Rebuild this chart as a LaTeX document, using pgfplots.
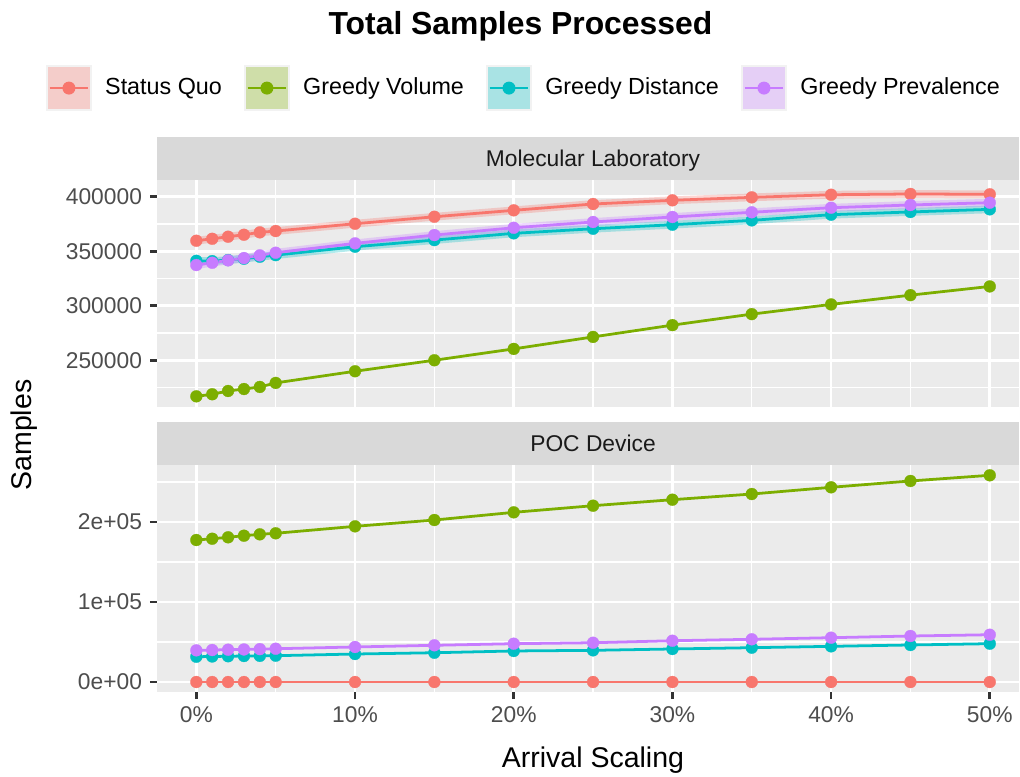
\documentclass[border=0pt]{standalone}
\usepackage{pgfplots}
\pgfplotsset{compat=1.18}
\usepackage{pgfplotstable}
\usepackage{fontspec}
\setmainfont{Liberation Sans}

\definecolor{ggred}{HTML}{F8766D}
\definecolor{gggreen}{HTML}{7CAE00}
\definecolor{ggcyan}{HTML}{00BFC4}
\definecolor{ggpurple}{HTML}{C77CFF}
\definecolor{keyred}{HTML}{F4CDCA}
\definecolor{keygreen}{HTML}{CFDEA9}
\definecolor{keycyan}{HTML}{A9E3E4}
\definecolor{keypurple}{HTML}{E5CFF6}
\definecolor{keyborder}{HTML}{F2F2F2}
\definecolor{ggbg}{HTML}{EBEBEB}
\definecolor{ggstrip}{HTML}{D9D9D9}
\definecolor{ggticktext}{HTML}{4D4D4D}
\definecolor{ggtickmark}{HTML}{333333}
\definecolor{ggtext}{HTML}{1A1A1A}

% Molecular Laboratory panel
\pgfplotstableread{
x  sq      gv      gd      gp
0  359600  216900  341200  337300
1  361400  218800  340900  339400
2  363300  221800  341900  341600
3  365100  223600  343100  343700
4  367300  225500  344900  346200
5  368500  229200  346400  348600
10 375200  239900  354100  357200
15 381600  250000  360200  364800
20 387500  260400  366400  371500
25 393300  271400  370600  376800
30 396700  282200  374300  381400
35 399400  292300  378300  385700
40 401800  301200  383500  389900
45 402500  309700  386000  392400
50 402200  317700  388400  394500
}\toptable

% POC Device panel
\pgfplotstableread{
x  sq  gv      gd     gp
0  0   177500  31600  39600
1  0   179100  31900  40000
2  0   180900  32200  40400
3  0   182900  32500  40700
4  0   184600  32700  41100
5  0   185900  32900  41600
10 0   194600  35000  43800
15 0   202500  36600  45900
20 0   212100  38800  47900
25 0   220400  39600  49100
30 0   227900  41300  51600
35 0   235000  42900  53400
40 0   243400  44600  55400
45 0   251300  46300  57500
50 0   258400  47900  59100
}\bottable

\pgfplotsset{
  ggaxis/.style={
    scale only axis,
    width=332.73pt, height=87.62pt,
    xmin=-2.48, xmax=51.84,
    axis background/.style={fill=ggbg},
    axis line style={draw=none},
    grid=both,
    major grid style={white, line width=1.07pt},
    minor grid style={white, line width=0.53pt},
    xtick={0,10,20,30,40,50},
    minor xtick={5,15,25,35,45},
    tick align=outside,
    major tick length=2.7pt,
    minor tick length=0pt,
    major tick style={ggtickmark, line width=1.07pt},
    minor tick style={draw=none},
    ytick pos=left,
    tick label style={font=\fontsize{8.8}{10}\selectfont, text=ggticktext, inner sep=0pt, outer sep=3.1pt},
    label style={font=\fontsize{11}{13}\selectfont, text=black},
    /pgf/number format/assume math mode=true,
  },
  ribbon/.style={#1, opacity=0.3, line width=3pt, forget plot},
  ln/.style={#1, line width=1.07pt, forget plot},
  pts/.style={only marks, mark=*, mark size=2.3pt, mark options={fill=#1, draw=#1, line width=0.1pt}},
  key/.style 2 args={legend image code/.code={
      \fill[#2, draw=keyborder, line width=0.6pt] (0pt,-8.5pt) rectangle (17pt,8.5pt);
      \draw[#1, line width=1.07pt] (1pt,0pt) -- (16pt,0pt);
      \fill[#1] (8.5pt,0pt) circle (2.3pt);}},
}

\begin{document}
\begin{tikzpicture}
\useasboundingbox (0pt,0pt) rectangle (393.72pt,299.54pt);

\node[anchor=base, font=\fontsize{12.3}{14}\selectfont\bfseries] at (200.9pt,286.41pt) {Total Samples Processed};

\begin{axis}[ggaxis, name=top,
  at={(60.60pt,142.43pt)}, anchor=south west,
  ymin=207100, ymax=415300,
  xtick pos=top, xticklabels={},
  ytick={250000,300000,350000,400000},
  yticklabels={250000,300000,350000,400000},
  minor ytick={225000,275000,325000,375000},
  legend columns=4,
  legend style={at={(axis description cs:0.4246,1.405)}, anchor=center,
    draw=none, fill=none, inner sep=0pt,
    font=\fontsize{9}{10.5}\selectfont, text=black,
    nodes={inner sep=0pt},
    /tikz/every odd column/.append style={column sep=5.2pt},
    /tikz/every even column/.append style={column sep=8.6pt}},
]
\addplot[ribbon=ggred] table[x=x, y=sq] {\toptable};
\addplot[ribbon=ggcyan] table[x=x, y=gd] {\toptable};
\addplot[ribbon=ggpurple] table[x=x, y=gp] {\toptable};
\addplot[ln=ggred] table[x=x, y=sq] {\toptable};
\addplot[ln=gggreen] table[x=x, y=gv] {\toptable};
\addplot[ln=ggcyan] table[x=x, y=gd] {\toptable};
\addplot[ln=ggpurple] table[x=x, y=gp] {\toptable};
\addplot[pts=ggred, key={ggred}{keyred}] table[x=x, y=sq] {\toptable};
\addlegendentry{Status Quo}
\addplot[pts=gggreen, key={gggreen}{keygreen}] table[x=x, y=gv] {\toptable};
\addlegendentry{Greedy Volume}
\addplot[pts=ggcyan, key={ggcyan}{keycyan}] table[x=x, y=gd] {\toptable};
\addlegendentry{Greedy Distance}
\addplot[pts=ggpurple, key={ggpurple}{keypurple}] table[x=x, y=gp] {\toptable};
\addlegendentry{Greedy Prevalence}
\end{axis}

\begin{axis}[ggaxis, name=bot,
  at={(60.60pt,32.42pt)}, anchor=south west,
  ymin=-12500, ymax=271250,
  xtick pos=bottom,
  xticklabels={0\%,10\%,20\%,30\%,40\%,50\%},
  ytick={0,100000,200000},
  yticklabels={0e+00,1e+05,2e+05},
  minor ytick={50000,150000,250000},
  xlabel={Arrival Scaling},
  ylabel={Samples},
  xlabel style={at={(axis description cs:0.5058,0)}, anchor=base, yshift=-28.95pt},
  ylabel style={at={(axis description cs:-0.1450,1.1322)}, anchor=base, rotate=0},
]
\addplot[ln=ggred] table[x=x, y=sq] {\bottable};
\addplot[ln=gggreen] table[x=x, y=gv] {\bottable};
\addplot[ln=ggcyan] table[x=x, y=gd] {\bottable};
\addplot[ln=ggpurple] table[x=x, y=gp] {\bottable};
\addplot[pts=ggred] table[x=x, y=sq] {\bottable};
\addplot[pts=gggreen] table[x=x, y=gv] {\bottable};
\addplot[pts=ggcyan] table[x=x, y=gd] {\bottable};
\addplot[pts=ggpurple] table[x=x, y=gp] {\bottable};
\end{axis}

\fill[ggstrip] (top.north west) rectangle ([yshift=16.6pt]top.north east);
\fill[ggstrip] (bot.north west) rectangle ([yshift=16.6pt]bot.north east);
\node[anchor=base, text=ggtext, font=\fontsize{8.8}{10}\selectfont] at (228.9pt,235.2pt) {Molecular Laboratory};
\node[anchor=base, text=ggtext, font=\fontsize{8.8}{10}\selectfont] at (228.9pt,125.2pt) {POC Device};
\end{tikzpicture}
\end{document}
